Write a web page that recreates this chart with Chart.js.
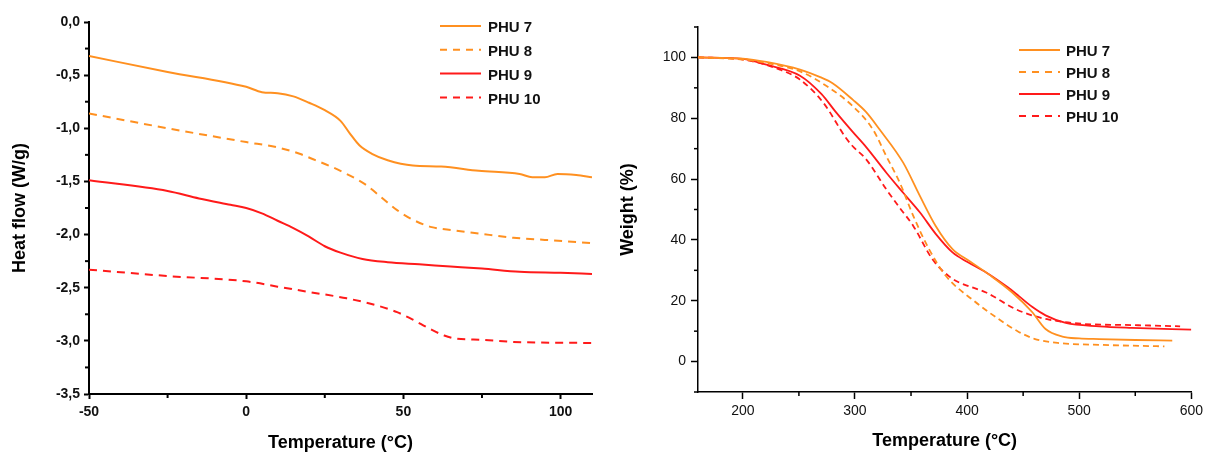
<!DOCTYPE html>
<html>
<head>
<meta charset="utf-8">
<script src="https://cdn.jsdelivr.net/npm/chart.js@4"></script>
<style>
  body { margin: 0; background: #fff; }
  canvas { position: absolute; top: 0; }
  #dsc { left: 0; }
  #tga { left: 600px; }
</style>
</head>
<body>
<canvas id="dsc" width="600" height="456"></canvas>
<canvas id="tga" width="607" height="456"></canvas>
<script>
// series
const seriesNames = ["PHU 7", "PHU 8", "PHU 9", "PHU 10"];
const seriesColors = ["#ff9020", "#ff9020", "#ff1a1a", "#ff1a1a"];
const seriesDashed = [false, true, false, true];

// DSC (left)
const dscTemp7 = [-50, -25, 0, 5, 10, 15, 20, 25, 30, 33, 36, 40, 45, 53, 62, 74, 87, 91, 95, 99, 105, 110];
const dscFlow7 = [-0.32, -0.47, -0.61, -0.66, -0.67, -0.70, -0.76, -0.83, -0.93, -1.05, -1.16, -1.24, -1.30, -1.35, -1.36, -1.40, -1.43, -1.46, -1.46, -1.43, -1.44, -1.46];
const dscTemp8 = [-50, -25, 0, 10, 17, 22, 27, 32, 38, 43, 48, 53, 59, 66, 74, 85, 95, 110];
const dscFlow8 = [-0.86, -1.00, -1.13, -1.18, -1.24, -1.30, -1.36, -1.43, -1.53, -1.65, -1.77, -1.86, -1.93, -1.96, -1.99, -2.03, -2.05, -2.08];
const dscTemp9 = [-50, -25, -15, -5, 0, 5, 10, 15, 20, 25, 30, 37, 45, 55, 65, 75, 87, 100, 110];
const dscFlow9 = [-1.49, -1.59, -1.66, -1.72, -1.75, -1.80, -1.87, -1.94, -2.02, -2.11, -2.17, -2.23, -2.26, -2.28, -2.30, -2.32, -2.35, -2.36, -2.37];
const dscTemp10 = [-50, -25, 0, 10, 20, 32, 42, 48, 53, 58, 63, 67, 75, 85, 110];
const dscFlow10 = [-2.33, -2.39, -2.44, -2.49, -2.54, -2.60, -2.67, -2.73, -2.80, -2.88, -2.95, -2.98, -2.99, -3.01, -3.02];

const dscXTicks = [-50, 0, 50, 100];
const dscXMinor = [-25, 25, 75];
const dscYTicks = [0, -0.5, -1, -1.5, -2, -2.5, -3, -3.5];
const dscYMinor = [-0.25, -0.75, -1.25, -1.75, -2.25, -2.75, -3.25];

// TGA (right)
const tgaTemp7 = [160, 200, 221, 251, 269, 280, 298, 310, 322, 343, 358, 372, 387, 402, 420, 440, 458, 470, 485, 500, 518, 550, 583];
const tgaWeight7 = [100, 99.6, 98.5, 96, 93.5, 91.5, 86.1, 82, 76.3, 65.4, 54.4, 44.6, 37, 33.1, 28.5, 22.8, 16.3, 10.7, 8.2, 7.6, 7.4, 7.1, 6.9];
const tgaTemp8 = [160, 200, 221, 251, 275, 298, 316, 328, 340, 352, 366, 381, 406, 428, 445, 460, 482, 518, 576];
const tgaWeight8 = [100, 99.3, 98.2, 95.4, 90.5, 84, 76.3, 67.5, 58.8, 47.9, 37, 28.2, 20, 14, 10, 7.5, 6.1, 5.5, 5.0];
const tgaTemp9 = [160, 200, 221, 251, 270, 283, 298, 310, 328, 343, 358, 372, 387, 400, 417, 436, 446, 458, 470, 488, 518, 547, 600];
const tgaWeight9 = [100, 99.5, 97.6, 94, 88, 82, 75.5, 70.5, 62.1, 55.5, 49, 42, 35.9, 32.8, 29.3, 24.5, 21.6, 18, 15.2, 12.7, 11.6, 11.1, 10.5];
const tgaTemp10 = [160, 200, 233, 251, 272, 292, 298, 310, 328, 340, 352, 369, 384, 393, 417, 443, 458, 473, 503, 547, 590];
const tgaWeight10 = [100, 99.3, 96, 92.7, 85, 73.5, 70.8, 66.5, 56.6, 50.5, 44.6, 33.7, 28, 26, 22.7, 17.3, 15.2, 13.8, 12.4, 12.0, 11.6];

const tgaXTicks = [200, 300, 400, 500, 600];
const tgaXMinor = [250, 350, 450, 550];
const tgaYTicks = [0, 20, 40, 60, 80, 100];
const tgaYMinor = [-10, 10, 30, 50, 70, 90, 110];

const FONT = "'Liberation Sans', Arial, sans-serif";

function pts(xs, ys) {
  return xs.map((x, i) => ({ x: x, y: ys[i] }));
}

function makeDatasets(temps, vals, width, dash) {
  return seriesNames.map((name, i) => ({
    label: name,
    data: pts(temps[i], vals[i]),
    borderColor: seriesColors[i],
    borderWidth: width,
    borderDash: seriesDashed[i] ? dash : [],
    pointRadius: 0,
    fill: false,
    tension: 0.4,
    cubicInterpolationMode: "monotone",
  }));
}

// short minor tick marks drawn through the scales
const minorTicks = {
  id: "minorTicks",
  afterDraw(chart, args, opts) {
    const ctx = chart.ctx;
    const x = chart.scales.x, y = chart.scales.y;
    ctx.save();
    ctx.strokeStyle = "#000";
    ctx.lineWidth = opts.width;
    opts.x.forEach((v) => {
      const p = x.getPixelForValue(v);
      ctx.beginPath();
      ctx.moveTo(p, x.top);
      ctx.lineTo(p, x.top + opts.len);
      ctx.stroke();
    });
    opts.y.forEach((v) => {
      const p = y.getPixelForValue(v);
      ctx.beginPath();
      ctx.moveTo(y.right, p);
      ctx.lineTo(y.right - opts.len, p);
      ctx.stroke();
    });
    ctx.restore();
  },
};

// legend inside the plot, lines + labels
const sideLegend = {
  id: "sideLegend",
  afterDraw(chart, args, opts) {
    const ctx = chart.ctx;
    ctx.save();
    ctx.font = "bold " + opts.size + "px " + FONT;
    ctx.textBaseline = "middle";
    ctx.fillStyle = "#111";
    chart.data.datasets.forEach((ds, i) => {
      const yy = opts.y + i * opts.gap;
      ctx.strokeStyle = ds.borderColor;
      ctx.lineWidth = 2;
      ctx.setLineDash(ds.borderDash.length ? opts.dash : []);
      ctx.beginPath();
      ctx.moveTo(opts.x, yy);
      ctx.lineTo(opts.x + opts.len, yy);
      ctx.stroke();
      ctx.setLineDash([]);
      ctx.fillText(ds.label, opts.x + opts.len + opts.textGap, yy + 2);
    });
    ctx.restore();
  },
};

function axis(min, max, major, opts) {
  return {
    type: "linear",
    min: min,
    max: max,
    afterBuildTicks: (s) => { s.ticks = major.map((v) => ({ value: v })); },
    afterFit: opts.fit,
    border: { display: true, color: "#000", width: opts.border },
    grid: { drawOnChartArea: false, drawTicks: true, tickLength: opts.tick, tickColor: "#000", tickWidth: opts.border },
    ticks: {
      autoSkip: false,
      maxRotation: 0,
      padding: opts.pad,
      color: "#111",
      font: { family: FONT, size: opts.size, weight: opts.weight },
      callback: opts.fmt,
    },
    title: {
      display: true,
      text: opts.title,
      color: "#000",
      font: { family: FONT, size: 18, weight: "bold" },
      padding: opts.titlePad,
    },
  };
}

new Chart(document.getElementById("dsc"), {
  type: "line",
  data: {
    datasets: makeDatasets(
      [dscTemp7, dscTemp8, dscTemp9, dscTemp10],
      [dscFlow7, dscFlow8, dscFlow9, dscFlow10], 2, [8, 6]),
  },
  options: {
    responsive: false,
    animation: false,
    layout: { padding: { top: 22, right: 8, left: 0, bottom: 0 } },
    scales: {
      x: axis(-50, 110, dscXTicks, {
        fit: (s) => { s.height = 62; },
        border: 2, tick: 5, pad: 5, size: 14, weight: "bold",
        fmt: (v) => String(v),
        title: "Temperature (°C)", titlePad: { top: 0, bottom: 2 },
      }),
      y: axis(-3.5, 0, dscYTicks, {
        fit: (s) => { s.width = 89; },
        border: 2, tick: 5, pad: 4, size: 14, weight: "bold",
        fmt: (v) => v.toFixed(1).replace(".", ","),
        title: "Heat flow (W/g)", titlePad: { top: 9, bottom: 0 },
      }),
    },
    plugins: {
      legend: { display: false },
      tooltip: { enabled: false },
      minorTicks: { x: dscXMinor, y: dscYMinor, len: 4, width: 2 },
      sideLegend: { x: 440, y: 26, gap: 23.8, len: 41, textGap: 7, size: 15, dash: [7, 6] },
    },
  },
  plugins: [minorTicks, sideLegend],
});

new Chart(document.getElementById("tga"), {
  type: "line",
  data: {
    datasets: makeDatasets(
      [tgaTemp7, tgaTemp8, tgaTemp9, tgaTemp10],
      [tgaWeight7, tgaWeight8, tgaWeight9, tgaWeight10], 1.8, [6, 4]),
  },
  options: {
    responsive: false,
    animation: false,
    layout: { padding: { top: 27, right: 14, left: 0, bottom: 0 } },
    scales: {
      x: axis(160, 600, tgaXTicks, {
        fit: (s) => { s.height = 64; },
        border: 1.5, tick: 7, pad: 4, size: 14, weight: "normal",
        fmt: (v) => String(v),
        title: "Temperature (°C)", titlePad: { top: 0, bottom: 4 },
      }),
      y: axis(-10, 110, tgaYTicks, {
        fit: (s) => { s.width = 98; },
        border: 1.5, tick: 7, pad: 5, size: 14, weight: "normal",
        fmt: (v) => String(v),
        title: "Weight (%)", titlePad: { top: 17, bottom: 0 },
      }),
    },
    plugins: {
      legend: { display: false },
      tooltip: { enabled: false },
      minorTicks: { x: tgaXMinor, y: tgaYMinor, len: 4, width: 1.5 },
      sideLegend: { x: 419, y: 50, gap: 22, len: 41, textGap: 6, size: 15, dash: [7, 6] },
    },
  },
  plugins: [minorTicks, sideLegend],
});
</script>
</body>
</html>
